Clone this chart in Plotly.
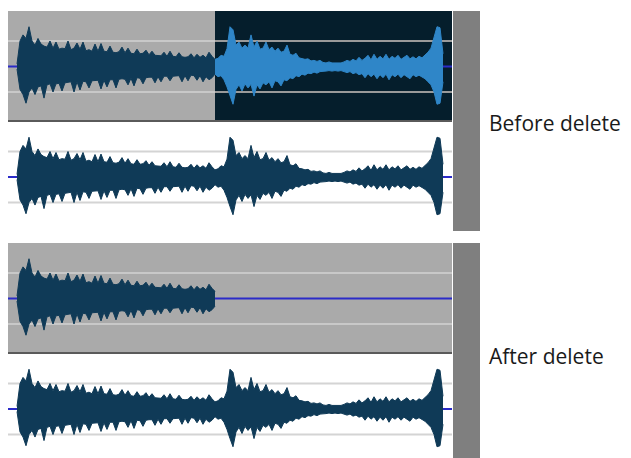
import plotly.graph_objects as go

# ---------------- data ----------------
track_length = 14.8        # seconds shown in each track
selection_start = 6.9      # start of the selected (later deleted) region, s
first_sample = 0.3         # first envelope sample, s
sample_step = 0.1          # envelope sample spacing, s

# positive peak envelope
upper = [0.05, 0.5, 0.62, 0.55, 0.78, 0.5, 0.42, 0.55, 0.44, 0.4,
         0.38, 0.5, 0.36, 0.48, 0.34, 0.36, 0.35, 0.5, 0.33, 0.36,
         0.46, 0.34, 0.48, 0.31, 0.33, 0.3, 0.44, 0.3, 0.45, 0.3,
         0.29, 0.4, 0.28, 0.27, 0.29, 0.38, 0.27, 0.36, 0.26, 0.25,
         0.34, 0.25, 0.26, 0.32, 0.23, 0.3, 0.22, 0.22, 0.21, 0.28,
         0.2, 0.3, 0.2, 0.19, 0.27, 0.19, 0.18, 0.19, 0.25, 0.17,
         0.24, 0.18, 0.22, 0.17, 0.28, 0.2, 0.14, 0.16, 0.22, 0.2,
         0.35, 0.78, 0.72, 0.42, 0.48, 0.36, 0.42, 0.36, 0.62, 0.38,
         0.5, 0.34, 0.36, 0.48, 0.33, 0.38, 0.3, 0.36, 0.28, 0.3,
         0.42, 0.24, 0.22, 0.26, 0.17, 0.16, 0.14, 0.15, 0.11, 0.12,
         0.1, 0.12, 0.08, 0.07, 0.09, 0.07, 0.07, 0.08, 0.07, 0.09,
         0.12, 0.1, 0.14, 0.11, 0.18, 0.12, 0.16, 0.22, 0.13, 0.24,
         0.14, 0.2, 0.15, 0.24, 0.14, 0.2, 0.16, 0.22, 0.14, 0.18,
         0.22, 0.15, 0.19, 0.15, 0.2, 0.17, 0.22, 0.28, 0.36, 0.55,
         0.78, 0.76, 0.25]

# negative peak envelope, as magnitudes
lower = [0.05, 0.45, 0.55, 0.72, 0.5, 0.42, 0.55, 0.4, 0.38, 0.62,
         0.36, 0.34, 0.5, 0.34, 0.33, 0.48, 0.32, 0.31, 0.3, 0.5,
         0.3, 0.46, 0.29, 0.3, 0.42, 0.28, 0.28, 0.27, 0.44, 0.27,
         0.4, 0.26, 0.26, 0.42, 0.25, 0.24, 0.25, 0.36, 0.23, 0.38,
         0.22, 0.23, 0.34, 0.22, 0.21, 0.21, 0.32, 0.2, 0.3, 0.19,
         0.19, 0.28, 0.19, 0.18, 0.18, 0.3, 0.18, 0.28, 0.17, 0.18,
         0.27, 0.18, 0.3, 0.2, 0.26, 0.22, 0.15, 0.2, 0.18, 0.26,
         0.4, 0.58, 0.74, 0.45, 0.36, 0.48, 0.34, 0.42, 0.35, 0.58,
         0.36, 0.44, 0.32, 0.36, 0.3, 0.42, 0.28, 0.3, 0.38, 0.26,
         0.28, 0.22, 0.24, 0.18, 0.2, 0.15, 0.17, 0.13, 0.14, 0.11,
         0.13, 0.1, 0.1, 0.09, 0.08, 0.09, 0.08, 0.09, 0.08, 0.1,
         0.12, 0.1, 0.14, 0.12, 0.16, 0.14, 0.22, 0.14, 0.2, 0.15,
         0.24, 0.16, 0.22, 0.15, 0.26, 0.16, 0.2, 0.15, 0.22, 0.16,
         0.2, 0.24, 0.16, 0.2, 0.17, 0.2, 0.24, 0.3, 0.36, 0.5,
         0.74, 0.72, 0.3]

panel_labels = ["Before delete", "After delete"]
grid_levels = [-0.5, 0.5]

times = [round(first_sample + sample_step * i, 3) for i in range(len(upper))]

# ---------------- styling ----------------
# the page body has an 8px margin, so the figure starts at (8, 8)
OFF = 8
W, H = 623, 450
GREY_BG = "#aaaaaa"
DARK_BG = "#051e2c"
WHITE_BG = "#ffffff"
WAVE = "#0f3a57"
WAVE_SEL = "#2f86c8"
CENTER = "#2b2bc8"
BAR = "#7f7f7f"
SEP = "#5a5a5a"


def px_x(p):
    return (p - OFF) / W


def px_y(p):
    return 1 - (p - OFF) / H


# track pixel boxes (page pixels): top, bottom, centre
x_left, x_right = 8, 452
tracks = [
    dict(top=11, bottom=122, centre=66.5),    # before, track 1
    dict(top=123, bottom=231, centre=177),    # before, track 2
    dict(top=243, bottom=354, centre=298.5),  # after, track 1
    dict(top=355, bottom=458, centre=409),    # after, track 2
]
unit_px = 51.0  # pixels per amplitude unit

fig = go.Figure()
layout = dict(width=W, height=H, autosize=False,
              margin=dict(l=0, r=0, t=0, b=0, pad=0),
              paper_bgcolor="white", plot_bgcolor="rgba(0,0,0,0)",
              showlegend=False, shapes=[], annotations=[])

for k, tr in enumerate(tracks, start=1):
    ax = "" if k == 1 else str(k)
    top_val = (tr["centre"] - tr["top"]) / unit_px
    bot_val = -(tr["bottom"] - tr["centre"]) / unit_px
    layout[f"xaxis{ax}"] = dict(domain=[px_x(x_left), px_x(x_right)],
                                range=[0, track_length], visible=False,
                                fixedrange=True, anchor=f"y{ax}")
    layout[f"yaxis{ax}"] = dict(domain=[max(0, px_y(tr["bottom"])), px_y(tr["top"])],
                                range=[bot_val, top_val], visible=False,
                                fixedrange=True, anchor=f"x{ax}")


def rect(k, x0, x1, color):
    ax = "" if k == 1 else str(k)
    layout["shapes"].append(dict(type="rect", xref=f"x{ax}", yref=f"y{ax} domain",
                                 x0=x0, x1=x1, y0=0, y1=1, fillcolor=color,
                                 line=dict(width=0), layer="below"))


def hline(k, x0, x1, yv, color, width=2):
    ax = "" if k == 1 else str(k)
    layout["shapes"].append(dict(type="line", xref=f"x{ax}", yref=f"y{ax}",
                                 x0=x0, x1=x1, y0=yv, y1=yv,
                                 line=dict(color=color, width=width), layer="below"))


def wave(k, idx, color):
    ax = "" if k == 1 else str(k)
    xs = [times[i] for i in idx]
    up = [upper[i] for i in idx]
    lo = [-lower[i] for i in idx]
    fig.add_trace(go.Scatter(x=xs, y=up, mode="lines", xaxis=f"x{ax}", yaxis=f"y{ax}",
                             line=dict(color=color, width=1),
                             hoverinfo="skip"))
    fig.add_trace(go.Scatter(x=xs, y=lo, mode="lines", xaxis=f"x{ax}", yaxis=f"y{ax}",
                             line=dict(color=color, width=1),
                             fill="tonexty", fillcolor=color, hoverinfo="skip"))


all_idx = list(range(len(times)))
pre_idx = [i for i in all_idx if times[i] <= selection_start + 1e-9]
sel_idx = [i for i in all_idx if times[i] >= selection_start - 1e-9]

# backgrounds
rect(1, 0, selection_start, GREY_BG)
rect(1, selection_start, track_length, DARK_BG)
rect(2, 0, track_length, WHITE_BG)
rect(3, 0, track_length, GREY_BG)
rect(4, 0, track_length, WHITE_BG)

# grid lines
for g in grid_levels:
    hline(1, 0, selection_start, g, "#c8c8c8")
    hline(1, selection_start, track_length, g, "#9a9a9a")
    hline(2, 0, track_length, g, "#d4d4d4")
    hline(3, 0, track_length, g, "#c8c8c8")
    hline(4, 0, track_length, g, "#d4d4d4")

# centre lines
for k in range(1, 5):
    hline(k, 0, track_length, 0, CENTER, 2)

# track separators (bottom edge of first track in each panel)
for k in (1, 3):
    ax = "" if k == 1 else str(k)
    layout["shapes"].append(dict(type="line", xref=f"x{ax}", yref=f"y{ax} domain",
                                 x0=0, x1=track_length, y0=0.008, y1=0.008,
                                 line=dict(color=SEP, width=2), layer="above"))

# grey bars on the right
for top, bottom in ((11, 231), (243, 458)):
    layout["shapes"].append(dict(type="rect", xref="paper", yref="paper",
                                 x0=px_x(453), x1=px_x(480),
                                 y0=max(0, px_y(bottom)), y1=px_y(top),
                                 fillcolor=BAR, line=dict(width=0), layer="below"))

# waveforms
wave(1, pre_idx, WAVE)
wave(1, sel_idx, WAVE_SEL)
wave(2, all_idx, WAVE)
wave(3, pre_idx, WAVE)
wave(4, all_idx, WAVE)

# labels
for label, ypx in zip(panel_labels, (123, 356)):
    layout["annotations"].append(dict(text=label, xref="paper", yref="paper",
                                      x=px_x(487), y=px_y(ypx), xanchor="left",
                                      yanchor="middle", showarrow=False,
                                      font=dict(family="Open Sans", size=21,
                                                color="#1a1a1a")))

fig.update_layout(**layout)
fig.write_html("out.html", config={"displayModeBar": False})
